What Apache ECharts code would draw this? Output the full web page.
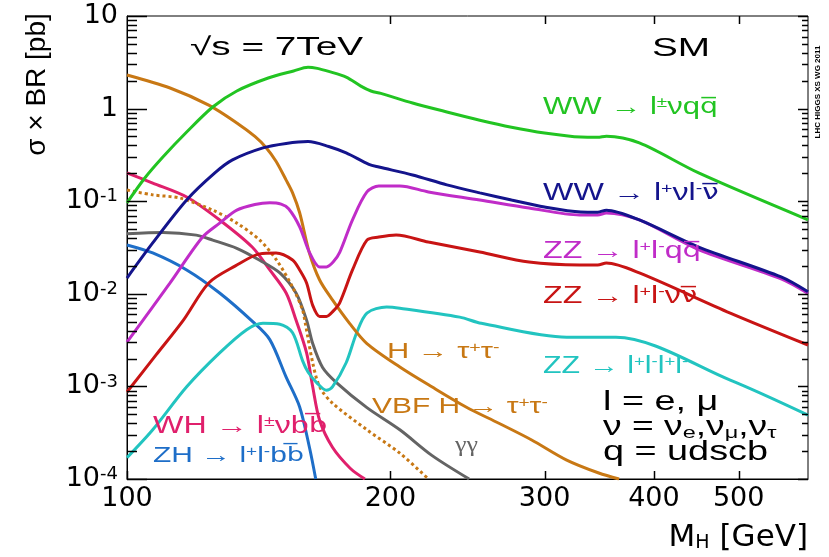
<!DOCTYPE html>
<html><head><meta charset="utf-8">
<script src="https://cdn.jsdelivr.net/npm/echarts@6/dist/echarts.min.js"></script>
<style>html,body{margin:0;padding:0;background:#fff}#c{width:829px;height:557px}</style>
</head><body><div id="c"></div>
<script>
// ---- data: [M_H (GeV), sigma x BR (pb)] ----
const wwLvqq = [[100,0.096],[104.8,0.178],[109.9,0.30],[117,0.558],[125.3,1.04],[133.5,1.55],[145,2.14],[155,2.55],[161,2.8],[165,2.72],[170,2.52],[178,2.19],[185,1.75],[190,1.55],[195,1.46],[212,1.15],[232,0.92],[253,0.75],[275,0.63],[300,0.546],[330,0.493],[345,0.49],[353,0.503],[385,0.426],[450,0.202],[600,0.063]];
const wwLvlv = [[100,0.0148],[107,0.0354],[117,0.103],[126,0.202],[132,0.279],[143,0.376],[152,0.42],[161,0.44],[170,0.39],[178,0.332],[189,0.25],[194,0.234],[212,0.192],[232,0.150],[253,0.123],[275,0.103],[300,0.0865],[330,0.0764],[345,0.076],[353,0.080],[385,0.0627],[450,0.032],[559,0.0152],[600,0.0105]];
const zzLLqq = [[100,0.0030],[112,0.0131],[122,0.041],[127.6,0.058],[133.5,0.080],[140,0.092],[145.6,0.096],[150,0.093],[153,0.083],[157.5,0.053],[161.6,0.028],[166,0.0195],[169,0.0195],[172,0.022],[175,0.028],[181,0.063],[188,0.126],[194,0.146],[205,0.146],[221,0.126],[253,0.103],[288,0.0845],[329,0.071],[345,0.071],[353,0.0746],[385,0.0627],[450,0.030],[559,0.0145],[600,0.0101]];
const zzLLvv = [[100,0.00087],[108,0.0022],[116,0.0052],[124,0.0131],[133,0.020],[141.8,0.027],[148,0.0276],[154.6,0.0232],[157.5,0.0181],[160.4,0.0131],[163,0.0075],[166,0.0057],[169,0.0057],[172,0.0065],[175,0.0080],[181,0.0181],[188,0.038],[194,0.041],[203,0.0432],[221,0.0362],[253,0.0283],[288,0.022],[329,0.0205],[345,0.0205],[353,0.0215],[385,0.0168],[489,0.0062],[600,0.0028]];
const zz4l = [[100,0.00017],[107,0.00034],[117,0.00099],[127.6,0.0023],[137,0.0041],[143,0.0048],[149.5,0.0047],[154.6,0.0038],[158.7,0.0019],[161,0.00143],[164.7,0.0011],[169,0.00091],[171.7,0.00099],[178,0.0018],[183,0.0038],[188,0.0062],[198,0.0072],[205,0.0070],[240,0.0056],[254,0.0048],[318,0.0034],[362,0.0034],[489,0.00117],[600,0.00049]];
const hTauTau = [[100,2.31],[112,1.67],[124,1.09],[133.5,0.70],[140,0.50],[144.3,0.376],[148,0.27],[152,0.169],[154.6,0.123],[157.5,0.075],[161.6,0.0276],[166,0.0141],[171.7,0.0086],[179.6,0.0048],[188,0.0029],[205,0.00162],[223,0.00099],[244,0.0006],[266,0.0004],[290,0.000264],[318,0.00016],[346,0.000116],[365,0.0001]];
const vbfTauTau = [[100,0.132],[107,0.117],[115,0.108],[125.3,0.080],[133.5,0.058],[141.8,0.038],[148.2,0.0232],[154.6,0.0118],[158.7,0.0067],[160,0.0046],[163,0.0018],[166,0.00099],[171.7,0.00066],[188,0.00034],[205,0.00019],[221,0.0001]];
const hGamGam = [[100,0.0445],[110,0.046],[120,0.043],[125.3,0.038],[133.5,0.031],[141.8,0.023],[149.5,0.0168],[156,0.0102],[160.4,0.0052],[163,0.0029],[167.3,0.0016],[173.5,0.0011],[188,0.00059],[205,0.00034],[223,0.00018],[246,0.0001]];
const whLvbb = [[100,0.202],[107,0.157],[117,0.111],[127.6,0.0627],[139,0.032],[145.6,0.0181],[152,0.0102],[156,0.0052],[160.4,0.0023],[163,0.00099],[166,0.00043],[171.7,0.00022],[180,0.00013],[187,0.0001]];
const zhLLbb = [[100,0.0337],[107,0.0276],[117,0.0181],[127.6,0.0102],[139.2,0.005],[145.6,0.0032],[152,0.00126],[157.5,0.0006],[161.6,0.00022],[164.3,0.0001]];

const xTickValues = [100, 200, 300, 400, 500];
const yTickValues = [1e-4, 1e-3, 1e-2, 1e-1, 1, 10];
const yMinorMantissas = [2, 3, 4, 5, 6, 7, 8, 9];
const X_MIN = 100, X_MAX = 600, Y_MIN = 1e-4, Y_MAX = 10;

// ---- styling ----
const C = {
  green: '#22c422', navy: '#14148c', magenta: '#c02cc8', red: '#c81414',
  cyan: '#22c4c0', orange: '#c87814', pink: '#e0206c', gray: '#646464', blue: '#1e6ec8'
};

// tick marks: [value, inner length on near side, inner length on far side]
const yTickMarks = yTickValues.map(v => [v, 20, 10]);
yTickValues.slice(0, -1).forEach(d => yMinorMantissas.forEach(k => yTickMarks.push([+(k * d).toPrecision(3), 10, 6])));
const xTickMarks = xTickValues.map(v => [v, 8, v === X_MIN ? 0 : 8]);

function line(name, data, color, extra) {
  return Object.assign({
    name, type: 'line', data, xAxisIndex: 0, yAxisIndex: 0,
    showSymbol: false, symbol: 'none', smooth: 0.3, clip: true,
    lineStyle: { color, width: 3 }, itemStyle: { color }
  }, extra || {});
}
function seg(x1, y1, x2, y2) {
  return { type: 'line', shape: { x1, y1, x2, y2 }, style: { stroke: '#000', lineWidth: 1.5 } };
}
const yTickSeries = {
  type: 'custom', name: 'y ticks', data: yTickMarks, encode: { y: 0, x: 1 }, silent: true, z: 5,
  renderItem: (params, api) => {
    const v = api.value(0), a = api.value(1), b = api.value(2);
    const p1 = api.coord([X_MIN, v]), p2 = api.coord([X_MAX, v]);
    const y = Math.round(p1[1]) + 0.5;
    return { type: 'group', children: [seg(p1[0], y, p1[0] + a, y), seg(p2[0], y, p2[0] - b, y)] };
  }
};
const xTickSeries = {
  type: 'custom', name: 'x ticks', data: xTickMarks, encode: { x: 0, y: 1 }, silent: true, z: 5,
  renderItem: (params, api) => {
    const v = api.value(0), a = api.value(1), b = api.value(2);
    const p1 = api.coord([v, Y_MIN]), p2 = api.coord([v, Y_MAX]);
    const x = Math.round(p1[0]) + 0.5;
    return { type: 'group', children: [seg(x, p1[1], x, p1[1] - a), seg(x, p2[1], x, p2[1] + b)] };
  }
};

const SANS = '"Liberation Sans", Arial, sans-serif';
const DJV = '"DejaVu Sans", sans-serif';
function rt(x, y, parts, size, color, sx, fam) {
  fam = fam || SANS;
  const rich = {
    n: { fontSize: size, fontFamily: fam, fill: color },
    o: { fontSize: Math.round(size * 0.92), fontFamily: DJV, fill: color },
    u: { fontSize: Math.round(size * 0.62), fontFamily: fam, fill: color, verticalAlign: 'top' },
    d: { fontSize: Math.round(size * 0.62), fontFamily: fam, fill: color, verticalAlign: 'bottom' }
  };
  const text = parts.map(p => typeof p === 'string' ? '{n|' + p + '}' : '{' + p[0] + '|' + p[1] + '}').join('');
  return { type: 'text', x, y, scaleX: sx || 1.4, z: 100,
    style: { text, rich, fontSize: size, fontFamily: fam, fill: color, align: 'left', verticalAlign: 'middle' } };
}

const OV = '\u0305';
const graphics = [
  rt(190, 48, ['√s = 7TeV'], 25, '#000', 1.55),
  rt(652, 49, ['SM'], 25, '#000', 1.55),
  rt(543, 108, ['WW → l', ['u', '±'], 'νq', ['o', 'q' + OV]], 23, C.green, 1.35),
  rt(543, 194, ['WW → l', ['u', '+'], 'νl', ['u', '-'], ['o', 'ν' + OV]], 23, C.navy),
  rt(543, 252, ['ZZ → l', ['u', '+'], 'l', ['u', '-'], 'q', ['o', 'q' + OV]], 23, C.magenta),
  rt(543, 297, ['ZZ → l', ['u', '+'], 'l', ['u', '-'], 'ν', ['o', 'ν' + OV]], 23, C.red),
  rt(543, 367, ['ZZ → l', ['u', '+'], 'l', ['u', '-'], 'l', ['u', '+'], 'l', ['u', '-']], 23, C.cyan, 1.32),
  rt(387, 352, ['H → τ', ['u', '+'], 'τ', ['u', '-']], 22, C.orange),
  rt(372, 407, ['VBF H → τ', ['u', '+'], 'τ', ['u', '-']], 22, C.orange, 1.36),
  rt(455, 446, ['γγ'], 20, C.gray, 1.3, '"Liberation Serif", serif'),
  rt(603, 403, ['l = e, μ'], 27, '#000', 1.4),
  rt(603, 428, ['ν = ν', ['d', 'e'], ',ν', ['d', 'μ'], ',ν', ['d', 'τ']], 27, '#000', 1.38),
  rt(603, 453, ['q = udscb'], 27, '#000', 1.4),
  rt(153, 427, ['WH → l', ['u', '±'], 'νb', ['o', 'b' + OV]], 23, C.pink),
  rt(153, 456, ['ZH → l', ['u', '+'], 'l', ['u', '-'], 'b', ['o', 'b' + OV]], 22, C.blue, 1.36),
  { type: 'text', x: 818, y: 92, rotation: Math.PI / 2, z: 100,
    style: { text: 'LHC HIGGS XS WG 2011', fontSize: 8, fontWeight: 'bold', fontFamily: SANS, fill: '#000', align: 'center', verticalAlign: 'middle' } }
];

const axisLineStyle = { show: true, onZero: false, lineStyle: { color: '#000', width: 1 } };

const option = {
  animation: false,
  backgroundColor: '#fff',
  grid: { left: 127, right: 21, top: 16, bottom: 78, containLabel: false, show: true, borderColor: '#000', borderWidth: 1, backgroundColor: 'transparent' },
  xAxis: {
    type: 'log', logBase: 10, min: X_MIN, max: X_MAX, position: 'bottom',
    name: '{a|M}{s|H}{a| [GeV]}', nameLocation: 'end', nameGap: 0,
    nameTextStyle: { align: 'right', verticalAlign: 'top', padding: [43, 0, 0, 0],
      rich: { a: { fontSize: 31, fontFamily: DJV, color: '#000' },
              s: { fontSize: 19, fontFamily: DJV, color: '#000', verticalAlign: 'bottom' } } },
    axisLine: axisLineStyle,
    axisTick: { show: false },
    axisLabel: { customValues: xTickValues, fontSize: 27, fontFamily: DJV, color: '#000', margin: 6, formatter: v => String(Math.round(v)) },
    splitLine: { show: false }, minorTick: { show: false }
  },
  yAxis: {
    type: 'log', logBase: 10, min: Y_MIN, max: Y_MAX, position: 'left',
    name: 'σ × BR [pb]', nameLocation: 'middle', nameRotate: 90, nameGap: 76,
    nameTextStyle: { fontSize: 28, fontFamily: SANS, color: '#000', padding: [0, 0, 0, 326] },
    axisLine: axisLineStyle,
    axisTick: { show: false },
    axisLabel: {
      customValues: yTickValues, margin: 9, color: '#000',
      formatter: v => { const e = Math.round(Math.log10(v)); if (e === 1) return '{b|10}'; if (e === 0) return '{b|1}'; return '{b|10}{s|' + e + '}'; },
      rich: { b: { fontSize: 27, fontFamily: DJV, color: '#000' },
              s: { fontSize: 18, fontFamily: DJV, color: '#000', verticalAlign: 'top' } }
    },
    splitLine: { show: false }, minorTick: { show: false }
  },
  series: [
    yTickSeries,
    xTickSeries,
    line('ZH → l+l-bb', zhLLbb, C.blue),
    line('WH → l±νbb', whLvbb, C.pink),
    line('H → γγ', hGamGam, C.gray),
    line('VBF H → ττ', vbfTauTau, C.orange, { lineStyle: { color: C.orange, width: 3, type: [3, 3] } }),
    line('ZZ → 4l', zz4l, C.cyan),
    line('H → ττ', hTauTau, C.orange),
    line('ZZ → llνν', zzLLvv, C.red),
    line('ZZ → llqq', zzLLqq, C.magenta),
    line('WW → lνlν', wwLvlv, C.navy),
    line('WW → lνqq', wwLvqq, C.green)
  ],
  graphic: graphics
};
const chart = echarts.init(document.getElementById('c'), null, { renderer: 'canvas' });
chart.setOption(option);
</script></body></html>
